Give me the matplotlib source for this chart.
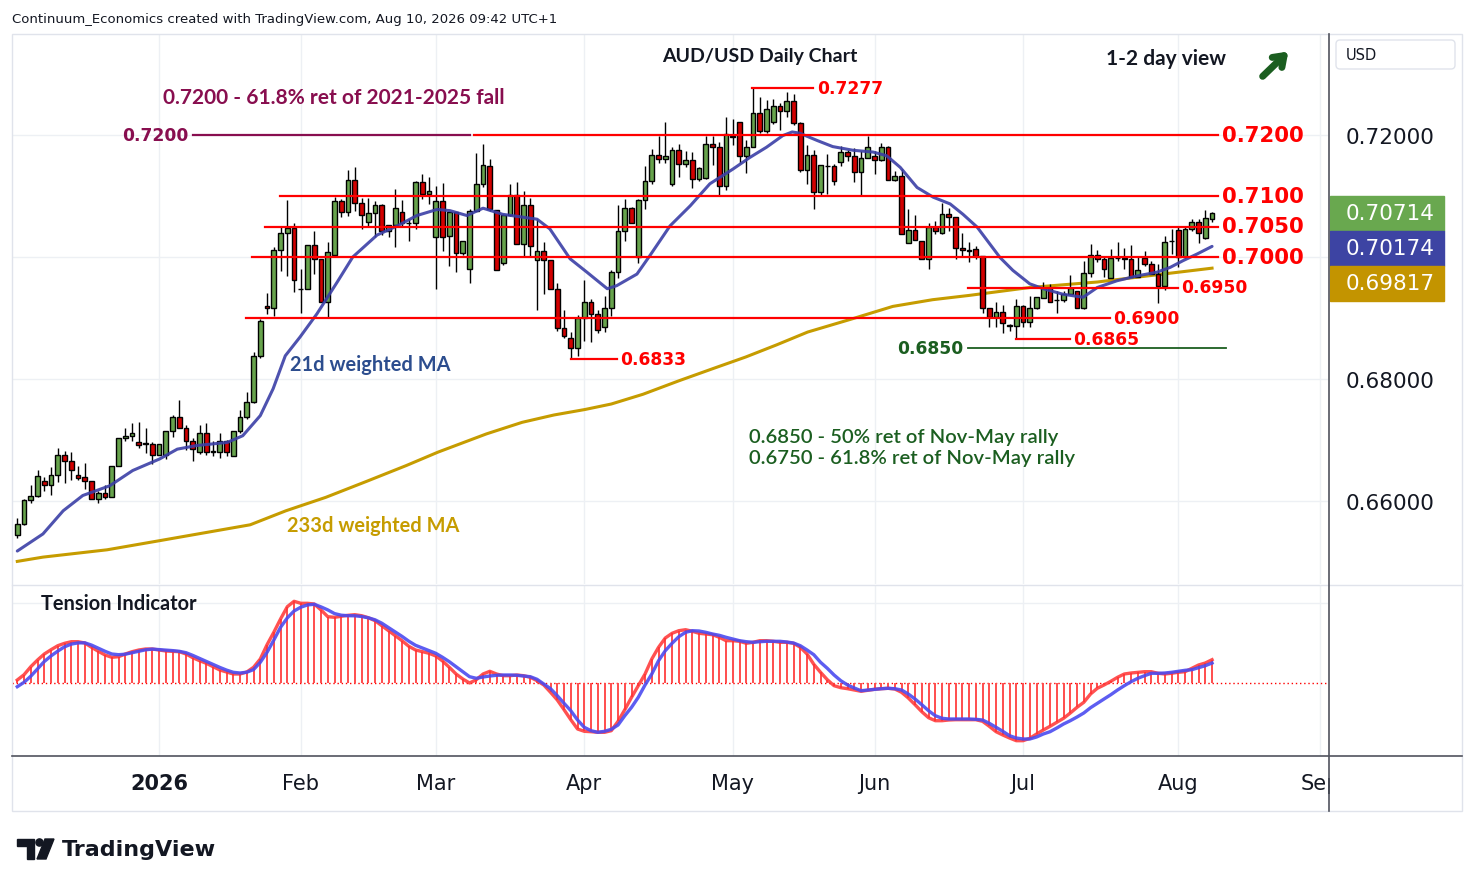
import pandas as pd
import matplotlib
matplotlib.use("Agg")
import matplotlib.pyplot as plt
from matplotlib.patches import Rectangle, FancyBboxPatch, Polygon, Circle
from matplotlib.lines import Line2D
from matplotlib.transforms import Affine2D, blended_transform_factory

W, H = 1474, 887

# trading days on the chart (no bars on 25 Dec and 1 Jan)
days = pd.bdate_range("2025-12-02", "2026-09-30")
days = days[~days.isin(pd.to_datetime(["2025-12-25", "2026-01-01"]))]

# daily candles
opens = [0.6544, 0.6563, 0.6601, 0.6609, 0.6632, 0.6626, 0.6642, 0.6675, 0.6665, 0.6642,
         0.6639, 0.6632, 0.6604, 0.6613, 0.6606, 0.6657, 0.6703, 0.6706, 0.6697, 0.6695,
         0.6694, 0.6675, 0.6676, 0.6714, 0.6737, 0.6720, 0.6699, 0.6680, 0.6711, 0.6681,
         0.6681, 0.6699, 0.6673, 0.6714, 0.6737, 0.6762, 0.6838, 0.6919, 0.6916, 0.7011,
         0.7040, 0.7048, 0.6948, 0.6947, 0.7019, 0.6997, 0.6926, 0.7004, 0.7091, 0.7073,
         0.7126, 0.7088, 0.7058, 0.7072, 0.7085, 0.7043, 0.7053, 0.7073, 0.7056, 0.7055,
         0.7123, 0.7103, 0.7032, 0.7091, 0.7034, 0.7073, 0.7006, 0.6981, 0.7076, 0.7119,
         0.7150, 0.7077, 0.6990, 0.7069, 0.7102, 0.7022, 0.7086, 0.6995, 0.7010, 0.6995,
         0.6947, 0.6883, 0.6867, 0.6851, 0.6900, 0.6927, 0.6906, 0.6886, 0.6916, 0.6975,
         0.7042, 0.7080, 0.7000, 0.7093, 0.7124, 0.7168, 0.7160, 0.7119, 0.7176, 0.7152,
         0.7159, 0.7128, 0.7129, 0.7185, 0.7180, 0.7116, 0.7197, 0.7221, 0.7165, 0.7181,
         0.7236, 0.7206, 0.7221, 0.7247, 0.7239, 0.7255, 0.7219, 0.7142, 0.7167, 0.7106,
         0.7150, 0.7149, 0.7155, 0.7172, 0.7165, 0.7140, 0.7162, 0.7165, 0.7159, 0.7180,
         0.7126, 0.7132, 0.7023, 0.7044, 0.7027, 0.6997, 0.7049, 0.7039, 0.7070, 0.7065,
         0.7014, 0.7010, 0.7013, 0.7002, 0.6916, 0.6902, 0.6910, 0.6887, 0.6887, 0.6920,
         0.6894, 0.6916, 0.6932, 0.6949, 0.6929, 0.6929, 0.6940, 0.6944, 0.6917, 0.6973,
         0.7004, 0.6996, 0.6966, 0.6998, 0.6998, 0.6996, 0.6968, 0.6998, 0.6988, 0.6972,
         0.6953, 0.7026, 0.7044, 0.7000, 0.7046, 0.7057, 0.7031, 0.7062]
highs = [0.6572, 0.6603, 0.6626, 0.6651, 0.6639, 0.6655, 0.6687, 0.6682, 0.6680, 0.6657,
         0.6662, 0.6633, 0.6616, 0.6626, 0.6657, 0.6703, 0.6720, 0.6728, 0.6729, 0.6720,
         0.6696, 0.6693, 0.6715, 0.6741, 0.6766, 0.6725, 0.6704, 0.6724, 0.6728, 0.6699,
         0.6711, 0.6700, 0.6714, 0.6749, 0.6778, 0.6845, 0.6898, 0.6941, 0.7017, 0.7049,
         0.7093, 0.7055, 0.6980, 0.7019, 0.7043, 0.6997, 0.7025, 0.7098, 0.7095, 0.7143,
         0.7147, 0.7097, 0.7097, 0.7091, 0.7087, 0.7053, 0.7111, 0.7093, 0.7063, 0.7125,
         0.7136, 0.7131, 0.7117, 0.7122, 0.7073, 0.7073, 0.7026, 0.7079, 0.7170, 0.7186,
         0.7160, 0.7077, 0.7070, 0.7119, 0.7123, 0.7109, 0.7097, 0.7062, 0.7025, 0.6995,
         0.6958, 0.6913, 0.6877, 0.6905, 0.6962, 0.6931, 0.6913, 0.6936, 0.6979, 0.7086,
         0.7095, 0.7082, 0.7095, 0.7149, 0.7177, 0.7198, 0.7222, 0.7180, 0.7185, 0.7174,
         0.7172, 0.7147, 0.7199, 0.7198, 0.7188, 0.7229, 0.7227, 0.7221, 0.7191, 0.7277,
         0.7263, 0.7257, 0.7259, 0.7252, 0.7270, 0.7267, 0.7222, 0.7184, 0.7175, 0.7151,
         0.7169, 0.7152, 0.7182, 0.7176, 0.7179, 0.7174, 0.7199, 0.7174, 0.7187, 0.7182,
         0.7141, 0.7144, 0.7079, 0.7069, 0.7027, 0.7055, 0.7059, 0.7088, 0.7080, 0.7065,
         0.7040, 0.7024, 0.7018, 0.7002, 0.6916, 0.6927, 0.6921, 0.6890, 0.6931, 0.6921,
         0.6936, 0.6934, 0.6959, 0.6956, 0.6945, 0.6945, 0.6971, 0.6944, 0.6993, 0.7021,
         0.7011, 0.7000, 0.7013, 0.7025, 0.7015, 0.7020, 0.7002, 0.7010, 0.6994, 0.6988,
         0.7034, 0.7046, 0.7049, 0.7049, 0.7063, 0.7062, 0.7077, 0.7074]
lows = [0.6539, 0.6561, 0.6596, 0.6606, 0.6617, 0.6610, 0.6631, 0.6629, 0.6635, 0.6635,
        0.6620, 0.6603, 0.6596, 0.6603, 0.6606, 0.6657, 0.6699, 0.6699, 0.6687, 0.6679,
        0.6661, 0.6675, 0.6669, 0.6705, 0.6719, 0.6684, 0.6666, 0.6677, 0.6675, 0.6674,
        0.6670, 0.6673, 0.6673, 0.6712, 0.6735, 0.6761, 0.6835, 0.6907, 0.6903, 0.6977,
        0.6969, 0.6942, 0.6909, 0.6947, 0.6972, 0.6926, 0.6901, 0.7004, 0.7065, 0.7067,
        0.7076, 0.7046, 0.7051, 0.7033, 0.7036, 0.7033, 0.7016, 0.7051, 0.7027, 0.7046,
        0.7095, 0.7087, 0.6948, 0.7010, 0.6986, 0.6975, 0.7004, 0.6957, 0.7076, 0.7114,
        0.7076, 0.6979, 0.6987, 0.7068, 0.7021, 0.7002, 0.7002, 0.6913, 0.6939, 0.6947,
        0.6879, 0.6867, 0.6833, 0.6838, 0.6863, 0.6861, 0.6876, 0.6877, 0.6904, 0.6965,
        0.7027, 0.7055, 0.6990, 0.7078, 0.7119, 0.7154, 0.7154, 0.7116, 0.7131, 0.7147,
        0.7113, 0.7125, 0.7128, 0.7151, 0.7102, 0.7110, 0.7184, 0.7154, 0.7137, 0.7180,
        0.7203, 0.7203, 0.7218, 0.7209, 0.7230, 0.7216, 0.7140, 0.7119, 0.7079, 0.7101,
        0.7103, 0.7118, 0.7150, 0.7157, 0.7123, 0.7102, 0.7162, 0.7136, 0.7157, 0.7126,
        0.7124, 0.7038, 0.7023, 0.7028, 0.6997, 0.6980, 0.7038, 0.7038, 0.7043, 0.6997,
        0.7002, 0.6992, 0.6997, 0.6909, 0.6885, 0.6885, 0.6876, 0.6879, 0.6865, 0.6886,
        0.6886, 0.6915, 0.6932, 0.6926, 0.6908, 0.6927, 0.6939, 0.6917, 0.6915, 0.6968,
        0.6991, 0.6968, 0.6966, 0.6993, 0.6980, 0.6968, 0.6967, 0.6986, 0.6972, 0.6924,
        0.6946, 0.7005, 0.6984, 0.6999, 0.7043, 0.7023, 0.7030, 0.7058]
closes = [0.6563, 0.6601, 0.6609, 0.6641, 0.6626, 0.6642, 0.6675, 0.6665, 0.6650, 0.6638,
          0.6632, 0.6604, 0.6613, 0.6606, 0.6657, 0.6703, 0.6706, 0.6711, 0.6691, 0.6694,
          0.6675, 0.6693, 0.6714, 0.6737, 0.6720, 0.6699, 0.6685, 0.6711, 0.6681, 0.6682,
          0.6699, 0.6680, 0.6714, 0.6737, 0.6762, 0.6838, 0.6895, 0.6916, 0.7011, 0.7040,
          0.7048, 0.6962, 0.6947, 0.7019, 0.6997, 0.6926, 0.7009, 0.7091, 0.7073, 0.7126,
          0.7089, 0.7069, 0.7072, 0.7085, 0.7043, 0.7053, 0.7080, 0.7055, 0.7055, 0.7123,
          0.7103, 0.7109, 0.7091, 0.7032, 0.7073, 0.7006, 0.7026, 0.7076, 0.7119, 0.7151,
          0.7078, 0.6979, 0.7069, 0.7102, 0.7022, 0.7086, 0.7018, 0.7010, 0.6995, 0.6947,
          0.6883, 0.6870, 0.6851, 0.6900, 0.6927, 0.6906, 0.6881, 0.6916, 0.6975, 0.7042,
          0.7080, 0.7055, 0.7093, 0.7124, 0.7168, 0.7160, 0.7165, 0.7176, 0.7152, 0.7159,
          0.7128, 0.7146, 0.7185, 0.7180, 0.7116, 0.7202, 0.7199, 0.7165, 0.7181, 0.7236,
          0.7206, 0.7243, 0.7247, 0.7239, 0.7255, 0.7220, 0.7143, 0.7167, 0.7106, 0.7151,
          0.7150, 0.7124, 0.7172, 0.7165, 0.7140, 0.7162, 0.7180, 0.7159, 0.7180, 0.7126,
          0.7132, 0.7038, 0.7044, 0.7028, 0.6997, 0.7049, 0.7042, 0.7070, 0.7065, 0.7014,
          0.7011, 0.7011, 0.7002, 0.6916, 0.6902, 0.6910, 0.6892, 0.6888, 0.6920, 0.6894,
          0.6916, 0.6934, 0.6949, 0.6927, 0.6930, 0.6940, 0.6949, 0.6917, 0.6973, 0.7004,
          0.6997, 0.6980, 0.6998, 0.6999, 0.6996, 0.6968, 0.6979, 0.6988, 0.6972, 0.6953,
          0.7024, 0.7027, 0.7000, 0.7046, 0.7057, 0.7039, 0.7064, 0.70714]

# moving averages, sampled along the drawn lines (bar position, value)
wma21_x = [0, 3.8, 6.8, 9.7, 13.7, 17.1, 21.1, 23.7, 26.6, 31.1, 33.4, 36, 37.9, 39.7, 41.9,
           44.4, 47.4, 49.7, 53.3, 56.3, 59.2, 62.2, 64.1, 66.6, 69, 71.9, 77, 78.9, 81.9,
           84.4, 87.4, 88.8, 91.8, 93.7, 96.7, 99.7, 102.6, 106, 108.5, 111, 113.4, 114.8,
           115.9, 118.5, 120.8, 123.8, 126.8, 128.8, 130.8, 133.3, 135.7, 138.2, 140.1,
           142.2, 144.1, 145.6, 147.5, 150, 152, 154.9, 157.9, 160, 162.9, 165.9, 168.8,
           170.8, 172.7, 174.8, 177]
wma21 = [0.6518, 0.6546, 0.6584, 0.6609, 0.6625, 0.6650, 0.6669, 0.6685, 0.6691, 0.6696,
         0.6707, 0.6740, 0.6784, 0.6838, 0.6869, 0.6907, 0.6959, 0.7000, 0.7036, 0.7051,
         0.7068, 0.7078, 0.7076, 0.7068, 0.7080, 0.7070, 0.7062, 0.7046, 0.6997, 0.6975,
         0.6948, 0.6953, 0.6972, 0.7002, 0.7051, 0.7084, 0.7120, 0.7144, 0.7163, 0.7180,
         0.7199, 0.7205, 0.7203, 0.7191, 0.7181, 0.7175, 0.7172, 0.7166, 0.7147, 0.7114,
         0.7098, 0.7087, 0.7070, 0.7049, 0.7021, 0.6999, 0.6978, 0.6956, 0.6948, 0.6939,
         0.6934, 0.6950, 0.6961, 0.6969, 0.6975, 0.6983, 0.6994, 0.7005, 0.70174]
wma233_x = [0, 3.8, 13.3, 21.1, 34.5, 39.8, 45.7, 51.7, 57.6, 62.3, 69.5, 74.8, 79.5, 84.1,
            88, 92.7, 98, 103.3, 107.9, 112.5, 117.1, 123.8, 129.7, 135.6, 141, 150, 160,
            169.7, 177]
wma233 = [0.6501, 0.6508, 0.6520, 0.6535, 0.6561, 0.6584, 0.6606, 0.6632, 0.6658, 0.6680,
          0.6710, 0.6729, 0.6741, 0.6750, 0.6759, 0.6775, 0.6797, 0.6818, 0.6836, 0.6856,
          0.6877, 0.6899, 0.6919, 0.6930, 0.6937, 0.6950, 0.6959, 0.6972, 0.69817]

# tension indicator (red, with histogram) and its signal line (blue)
tension = [3.3, 8.6, 16.6, 23.3, 29.3, 33.6, 37.6, 40, 41.6, 41.6, 40.3, 36, 32, 28.3, 26,
           26.6, 29.3, 31.6, 33.3, 34.3, 34.3, 33.3, 32.3, 32, 31.6, 29.3, 25.6, 22.6, 20,
           16.6, 13.3, 11.3, 9.3, 9.3, 11.3, 16, 24.3, 38.6, 51, 64.3, 76.6, 82, 80, 80,
           79.3, 73.3, 66.6, 66, 67, 68, 68.6, 67.6, 65.6, 62.6, 57.6, 52.6, 47.6, 42.6, 37,
           33.3, 31.6, 30, 27.3, 22.3, 16, 9.3, 4.3, 0.3, 3.6, 9.3, 12, 9.3, 7.6, 7.6, 8.3,
           7.6, 6, 2.6, -1.7, -9, -16.7, -26.4, -36.4, -45.7, -48, -48.4, -49, -49, -47.4,
           -38, -26.4, -14, -2.4, 9.3, 24.3, 36, 45.3, 50, 52.6, 53.6, 52, 50, 49.3, 48.6,
           46, 42.6, 42.6, 42, 40, 41, 42.6, 42.6, 42, 41, 41, 40, 36, 29.3, 19, 11, 3.6,
           -2.4, -4.4, -5.4, -6.7, -8, -7, -6, -5.4, -5, -5.7, -9, -14.7, -21.4, -28.4,
           -34.4, -37.4, -37.4, -36.7, -36.4, -36.4, -36.4, -36.4, -38, -43, -48.4, -51.7,
           -54.7, -57.4, -57.4, -55, -50.7, -46.7, -43, -39, -35, -29.7, -24, -19, -10.7,
           -5, -1.7, 2, 6, 9.3, 10.3, 11, 11.6, 11.6, 10, 9.3, 10, 11, 11.6, 15, 18.3, 20.3,
           23.6]
tension_sig = [-3.4, 1.0, 7.1, 14.4, 21.8, 27.4, 32.2, 36.5, 39.2, 40.4, 40.5, 38.2, 35.1,
               32.0, 29.3, 28.6, 29.1, 30.6, 32.2, 33.5, 34.2, 33.7, 33.1, 32.7, 32.0, 30.6,
               27.9, 24.9, 21.9, 18.8, 15.9, 13.2, 11.0, 10.3, 11.1, 13.7, 21.0, 31.0, 43.2,
               56.0, 65.4, 72.3, 76.1, 78.4, 79.0, 76.4, 73.4, 69.7, 68.1, 67.6, 67.5, 66.8,
               65.5, 63.5, 60.1, 55.7, 51.3, 46.9, 42.1, 38.0, 35.3, 32.6, 30, 26, 21.6, 16.6,
               11.6, 6.6, 5, 6.3, 7.3, 8, 8.3, 8.3, 8, 7.3, 6.6, 4, -0.7, -5.4, -12.4, -20,
               -27.4, -36.7, -44, -47.4, -49, -48, -46, -41.7, -32.4, -24, -14, -1.7, 9.3,
               22.6, 32.6, 40, 46.6, 51, 52.6, 52.3, 51, 49.3, 48, 46, 44.3, 42.6, 41.6, 41,
               41.6, 42, 42, 42, 41.3, 40.3, 37.6, 33.3, 28.6, 21, 15, 8.3, 2.6, -1.7, -4.7,
               -7.4, -6.7, -6, -5.4, -5, -5.4, -6.7, -10.7, -15.7, -21.4, -27.4, -32.4, -35,
               -35.7, -35.7, -35.7, -35.7, -36, -36.7, -40, -44, -48, -52.4, -54.7, -55.7,
               -55.7, -53.7, -50.7, -48.4, -44.7, -40.7, -37.4, -33.7, -29.7, -24.4, -20,
               -15.7, -11.4, -6.7, -2.4, 1.6, 5, 7.6, 10, 10, 10.3, 11, 12, 13, 13.6, 15.6,
               17.6, 20.3]

# drawn levels: (price, start bar, end bar)
red_levels = [(0.7200, 67.7, 177.9), (0.7100, 38.9, 177.9), (0.7050, 36.7, 177.9),
              (0.7000, 34.8, 177.9)]
small_levels = [(0.6950, 140.8, 171.9, 172.4), (0.6900, 33.9, 161.9, 162.3),
                (0.6865, 147.9, 155.9, 156.4), (0.6833, 82.0, 88.8, 89.3),
                (0.7277, 108.8, 117.9, 118.5)]

fig = plt.figure(figsize=(W / 100, H / 100), dpi=100)
fig.patch.set_facecolor("white")
pix = Affine2D().scale(1 / W, -1 / H).translate(0, 1) + fig.transFigure

GRID = "#edf0f4"
TXT = "#131722"
ANN = ["Lato", "DejaVu Sans"]

ax = fig.add_axes([12 / W, 1 - 585 / H, 1316 / W, 550 / H])
axi = fig.add_axes([12 / W, 1 - 757 / H, 1316 / W, 170 / H])
xlo, xhi = (12 - 17.3) / 6.75, (1328 - 17.3) / 6.75
ax.set_xlim(xlo, xhi)
axi.set_xlim(xlo, xhi)
ax.set_ylim(0.72 - 449 / 6100, 0.72 + 101 / 6100)
axi.set_ylim(-72.7, 97.3)

month_pos = [i for i in range(1, len(days)) if days[i].month != days[i - 1].month]
month_lab = ["2026" if days[i].month == 1 else days[i].strftime("%b") for i in month_pos]

for a in (ax, axi):
    for s in a.spines.values():
        s.set_visible(False)
    a.set_xticks(month_pos)
    a.grid(True, color=GRID, lw=1)
    a.set_axisbelow(True)

ax.tick_params(axis="x", length=0, labelbottom=False)
ax.yaxis.tick_right()
ax.set_yticks([0.66, 0.68, 0.70, 0.72])
ax.set_yticklabels(["0.66000", "0.68000", "", "0.72000"])
ax.tick_params(axis="y", length=0, pad=13, labelsize=15.5, labelcolor=TXT)

axi.set_yticks([80])
axi.tick_params(axis="y", length=0, labelright=False, labelleft=False)
axi.set_xticklabels(month_lab)
axi.tick_params(axis="x", length=0, pad=12, labelsize=15, labelcolor=TXT)
axi.get_xticklabels()[0].set_fontweight("bold")

# candles
xs = list(range(len(closes)))
up = [c >= o for o, c in zip(opens, closes)]
ax.vlines(xs, lows, highs, color="black", lw=1, zorder=3)
ax.bar(xs, [abs(c - o) for o, c in zip(opens, closes)], bottom=[min(o, c) for o, c in zip(opens, closes)],
       width=0.7, color=["#67a34c" if u else "#d20000" for u in up], edgecolor="black", lw=1, zorder=4)

ax.plot(wma21_x, wma21, color="#3b3fa6", lw=2.2, alpha=0.9, zorder=5, solid_capstyle="round")
ax.plot(wma233_x, wma233, color="#c69c00", lw=2.2, zorder=2.5)

# levels
for p, a0, a1 in red_levels:
    ax.plot([a0, a1], [p, p], color="#ff0000", lw=1.6, zorder=6)
    ax.text(178.5, p, f"{p:.4f}", color="#ff0000", fontsize=15.3, fontweight="bold",
            va="center", ha="left", zorder=7)
for p, a0, a1, lx in small_levels:
    ax.plot([a0, a1], [p, p], color="#ff0000", lw=1.6, zorder=6)
    ax.text(lx, p, f"{p:.4f}", color="#ff0000", fontsize=12.3, fontweight="bold",
            va="center", ha="left", zorder=7)
ax.plot([26.0, 67.1], [0.72, 0.72], color="#880e4f", lw=1.6, zorder=6)
ax.text(25.3, 0.72, "0.7200", color="#880e4f", fontsize=12.3, fontweight="bold", va="center", ha="right")
ax.plot([140.8, 179.1], [0.685, 0.685], color="#1b5e20", lw=1.3, zorder=6)
ax.text(140.2, 0.685, "0.6850", color="#1b5e20", fontsize=12.3, fontweight="bold", va="center", ha="right")

# notes
ax.text(110, 0.7330, "AUD/USD Daily Chart", ha="center", va="center", fontsize=14,
        fontweight="bold", family=ANN, color=TXT)
ax.text(161.3, 0.7326, "1-2 day view", ha="left", va="center", fontsize=15,
        fontweight="bold", family=ANN, color=TXT)
ax.annotate("", xy=(188.6, 0.7340), xytext=(184.2, 0.7293),
            arrowprops=dict(arrowstyle="->,head_length=0.7,head_width=0.5", lw=5, color="#1b5e20"))
ax.text(21.6, 0.7262, "0.7200 - 61.8% ret of 2021-2025 fall", ha="left", va="center",
        fontsize=15, fontweight="bold", family=ANN, color="#880e4f")
ax.text(40.4, 0.6825, "21d weighted MA", ha="left", va="center", fontsize=14.4,
        fontweight="bold", family=ANN, color="#2c4d8e")
ax.text(40.0, 0.6561, "233d weighted MA", ha="left", va="center", fontsize=14.4,
        fontweight="bold", family=ANN, color="#c69c00")
ax.text(108.4, 0.6705, "0.6850 - 50% ret of Nov-May rally", ha="left", va="center",
        fontsize=14.6, fontweight="semibold", family=ANN, color="#1b5e20")
ax.text(108.4, 0.6672, "0.6750 - 61.8% ret of Nov-May rally", ha="left", va="center",
        fontsize=14.6, fontweight="semibold", family=ANN, color="#1b5e20")

# price labels on the scale
bt = blended_transform_factory(ax.transAxes, ax.transData)
bh = 35 / 6100
boxes = [(closes[-1], closes[-1], "#69a84f"),
         (wma21[-1], closes[-1] - bh, "#3d44a3"),
         (wma233[-1], closes[-1] - 2 * bh, "#c39400")]
for val, yc, col in boxes:
    ax.add_patch(Rectangle((1.0015, yc - bh / 2), 0.0866, bh, transform=bt, color=col,
                           clip_on=False, zorder=8))
    ax.text(1.0137, yc, f"{val:.5f}", transform=bt, color="white", fontsize=15.5,
            va="center", ha="left", zorder=9, clip_on=False)

# tension indicator
axi.vlines(xs, 0, tension, color="#ff4d4d", lw=1.4, zorder=3)
axi.plot(xs, tension, color="#ff3333", lw=2.4, alpha=0.85, zorder=4)
axi.plot(xs, tension_sig, color="#4b4bf0", lw=2.4, alpha=0.9, zorder=5)
axi.axhline(0, color="#ff0000", lw=1, ls=(0, (1, 2)), zorder=2)

# frame and separators
fig.add_artist(Rectangle((12, 35), 1450, 777, transform=pix, fill=False, ec="#e0e3eb", lw=1))
fig.add_artist(Rectangle((1330, 758), 131, 53, transform=pix, fc="white", ec="none", zorder=5))
fig.add_artist(Line2D([12, 1462], [586, 586], transform=pix, color="#e0e3eb", lw=1))
fig.add_artist(Line2D([12, 1462], [757, 757], transform=pix, color="#50535e", lw=1.2, zorder=6))
fig.add_artist(Line2D([1329, 1329], [35, 812], transform=pix, color="#50535e", lw=1.2, zorder=6))
fig.add_artist(FancyBboxPatch((1336, 41), 119, 29, transform=pix, boxstyle="round,pad=0,rounding_size=4",
                              fc="white", ec="#e0e3eb", lw=1))
fig.text(1346 / W, 1 - 55 / H, "USD", fontsize=10.5, color=TXT, va="center", ha="left")
fig.text(12 / W, 1 - 19 / H, "Continuum_Economics created with TradingView.com, Aug 10, 2026 09:42 UTC+1",
         fontsize=9.5, color=TXT, va="center", ha="left")
fig.text(41 / W, 1 - 604 / H, "Tension Indicator", fontsize=14.4, fontweight="bold", family=ANN,
         color=TXT, va="center", ha="left")

# TradingView mark
fig.add_artist(Polygon([(17, 840), (34, 840), (34, 860), (27, 860), (27, 847), (17, 847)],
                       closed=True, transform=pix, color=TXT))
fig.add_artist(Circle((39.5, 843.5), 3.6, transform=pix, color=TXT))
fig.add_artist(Polygon([(45, 840), (54, 840), (46, 860), (37, 860)], closed=True, transform=pix, color=TXT))
fig.text(62 / W, 1 - 850 / H, "TradingView", fontsize=16, fontweight="bold", color=TXT,
         va="center", ha="left")

fig.savefig("out.png", dpi=100)
